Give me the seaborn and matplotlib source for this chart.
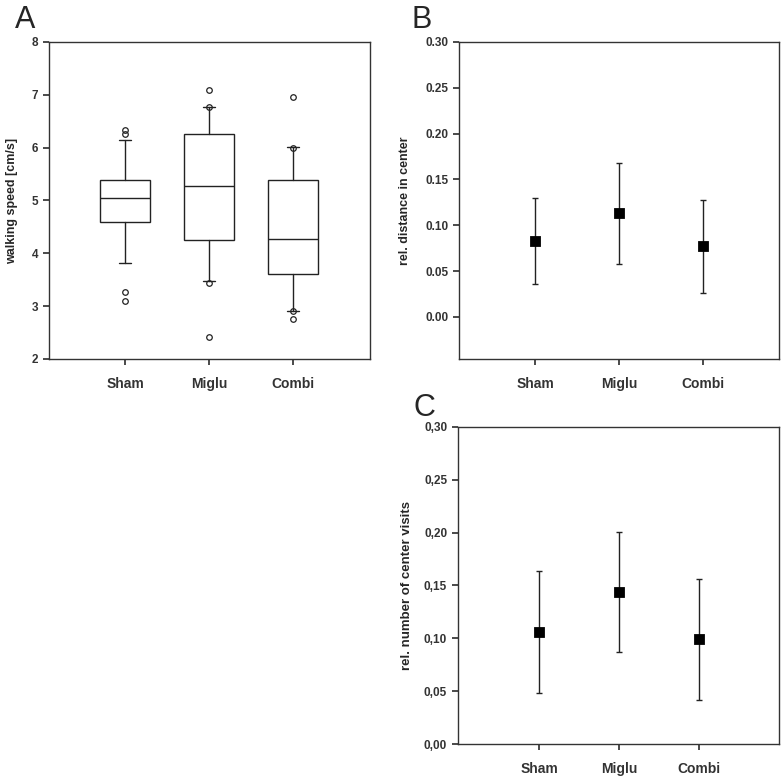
import numpy as np
import pandas as pd
import seaborn as sns
import matplotlib
matplotlib.use("Agg")
import matplotlib.pyplot as plt
from matplotlib.ticker import FuncFormatter

groups = ["Sham", "Miglu", "Combi"]

# A: walking speed, box = quartiles, whiskers = 10th/90th percentile
speed_q1 = [4.60, 4.25, 3.60]
speed_med = [5.04, 5.28, 4.28]
speed_q3 = [5.38, 6.25, 5.38]
speed_lo = [3.81, 3.48, 2.91]
speed_hi = [6.14, 6.76, 6.01]
speed_out = [[6.33, 6.25, 3.27, 3.10],
             [7.10, 6.76, 3.44, 2.42],
             [6.96, 6.00, 2.90, 2.76]]

# B: relative distance in center (mean, sd)
dist_mean = [0.083, 0.113, 0.077]
dist_sd = [0.047, 0.055, 0.051]

# C: relative number of center visits (mean, sd)
visit_mean = [0.106, 0.144, 0.099]
visit_sd = [0.058, 0.057, 0.057]

sns.set_theme(style="ticks")
plt.rcParams['font.family'] = ['Liberation Sans', 'DejaVu Sans']
plt.rcParams['axes.edgecolor'] = '#333333'
plt.rcParams['axes.linewidth'] = 1.0
plt.rcParams['xtick.major.size'] = 4
plt.rcParams['ytick.major.size'] = 4
plt.rcParams['xtick.color'] = '#333333'
plt.rcParams['ytick.color'] = '#333333'

fig = plt.figure(figsize=(7.84, 7.76), dpi=100)
axA = fig.add_axes([0.0625, 0.5374, 0.4094, 0.4085])
axB = fig.add_axes([0.5858, 0.5374, 0.4082, 0.4085])
axC = fig.add_axes([0.5846, 0.0409, 0.4094, 0.4092])

line_col = '#222222'

# panel A
stats = []
for i, g in enumerate(groups):
    stats.append(dict(label=g, q1=speed_q1[i], med=speed_med[i], q3=speed_q3[i],
                      whislo=speed_lo[i], whishi=speed_hi[i], fliers=speed_out[i]))
axA.bxp(stats, positions=range(3), widths=0.6, capwidths=0.15, patch_artist=True,
        manage_ticks=False,
        boxprops=dict(facecolor='white', edgecolor=line_col, linewidth=1),
        medianprops=dict(color=line_col, linewidth=1),
        whiskerprops=dict(color=line_col, linewidth=1),
        capprops=dict(color=line_col, linewidth=1),
        flierprops=dict(marker='o', markerfacecolor='none', markeredgecolor=line_col,
                        markersize=4, markeredgewidth=0.9))
axA.set_ylim(2, 8)
axA.set_yticks([2, 3, 4, 5, 6, 7, 8])
axA.set_ylabel('walking speed [cm/s]', fontsize=9, fontweight='bold')
axA.yaxis.set_label_coords(-0.097, 0.5)

# panel B
sns.pointplot(x=groups, y=dist_mean, ax=axB, color='black', marker='s',
              linestyle='none', markersize=6, errorbar=None)
axB.errorbar(range(3), dist_mean, yerr=dist_sd, fmt='none', ecolor=line_col,
             elinewidth=1, capsize=2.5, capthick=1, zorder=1)
axB.set_ylim(-0.046, 0.30)
axB.set_yticks([0.00, 0.05, 0.10, 0.15, 0.20, 0.25, 0.30])
axB.yaxis.set_major_formatter(FuncFormatter(lambda v, p: f"{v:.2f}"))
axB.set_ylabel('rel. distance in center', fontsize=9, fontweight='bold')
axB.yaxis.set_label_coords(-0.151, 0.5)

# panel C
sns.pointplot(x=groups, y=visit_mean, ax=axC, color='black', marker='s',
              linestyle='none', markersize=6, errorbar=None)
axC.errorbar(range(3), visit_mean, yerr=visit_sd, fmt='none', ecolor=line_col,
             elinewidth=1, capsize=2.5, capthick=1, zorder=1)
axC.set_ylim(0, 0.30)
axC.set_yticks([0.00, 0.05, 0.10, 0.15, 0.20, 0.25, 0.30])
axC.yaxis.set_major_formatter(FuncFormatter(lambda v, p: f"{v:.2f}".replace('.', ',')))
axC.set_ylabel('rel. number of center visits', fontsize=9.5, fontweight='bold')
axC.yaxis.set_label_coords(-0.141, 0.5)

for ax, xl in [(axA, (-0.905, 2.917)), (axB, (-0.905, 2.905)), (axC, (-1.01, 3.0))]:
    ax.set_xlim(*xl)
    ax.set_xticks(range(3))
    ax.set_xticklabels(groups, fontsize=10, fontweight='bold')
    ax.set_xlabel('')
    ax.tick_params(axis='x', pad=9)
    ax.tick_params(axis='y', labelsize=8.5, pad=4)
    for lab in ax.get_yticklabels():
        lab.set_fontweight('bold')
    for s in ax.spines.values():
        s.set_visible(True)

fig.text(0.019, 0.993, 'A', fontsize=22, va='top', ha='left')
fig.text(0.525, 0.993, 'B', fontsize=22, va='top', ha='left')
fig.text(0.527, 0.494, 'C', fontsize=22, va='top', ha='left')

fig.savefig('out.png', dpi=100)
